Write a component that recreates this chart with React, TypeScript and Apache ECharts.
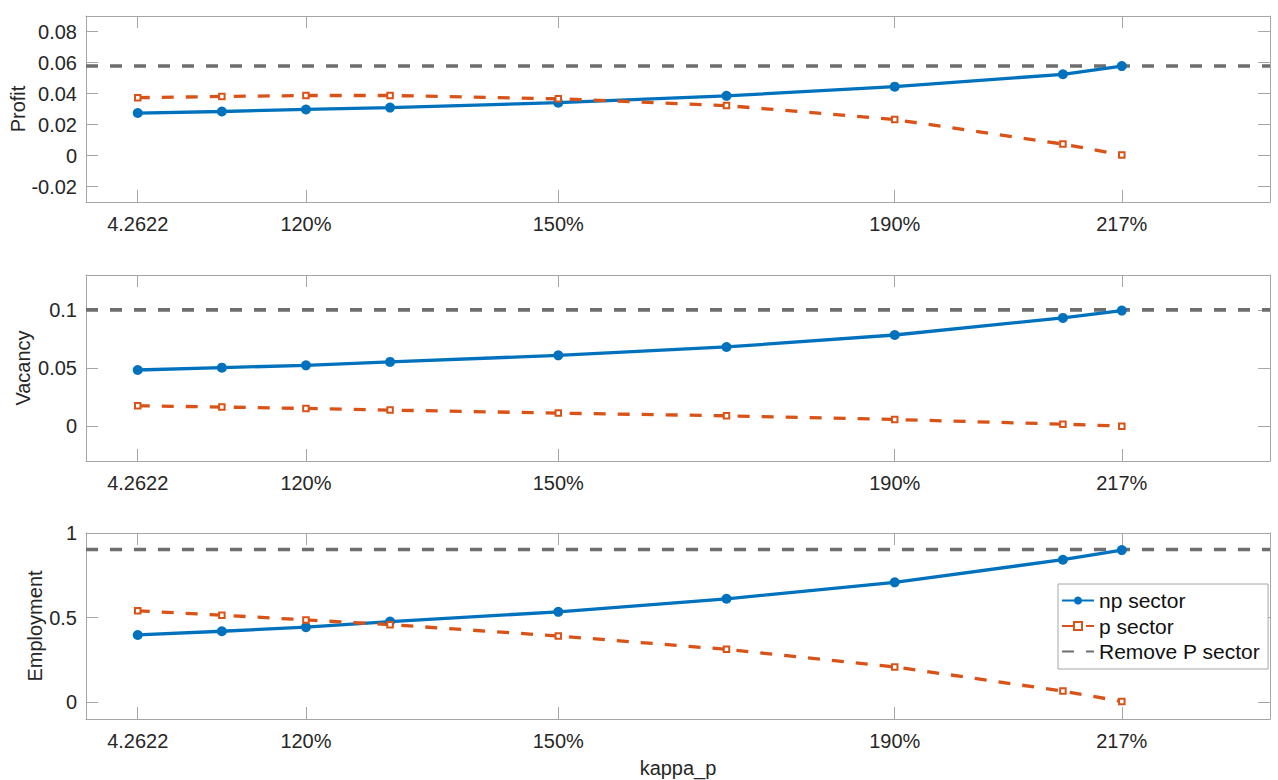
import React, { useEffect, useRef } from "react";
import * as echarts from "echarts";

// ---------- data ----------
const KAPPA_BASE = 4.2622;
const X_MIN = 4;
const X_MAX = 10;
const X_MULT = [1, 1.1, 1.2, 1.3, 1.5, 1.7, 1.9, 2.1, 2.17];
const X_TICK_MULT = [1, 1.2, 1.5, 1.9, 2.17];
const X_TICK_LABELS = ["4.2622", "120%", "150%", "190%", "217%"];

const PROFIT_NP = [0.0274, 0.0284, 0.0297, 0.0309, 0.0341, 0.0385, 0.0444, 0.0524, 0.0577];
const PROFIT_P = [0.0373, 0.0381, 0.0387, 0.0387, 0.0366, 0.0322, 0.0232, 0.0074, 0.0004];
const PROFIT_REMOVE = 0.0577;
const PROFIT_TICKS = [-0.02, 0, 0.02, 0.04, 0.06, 0.08];
const PROFIT_RANGE = [-0.03, 0.09];

const VACANCY_NP = [0.0483, 0.0503, 0.0523, 0.0552, 0.0609, 0.0681, 0.0784, 0.0931, 0.0994];
const VACANCY_P = [0.0175, 0.0164, 0.0152, 0.0138, 0.0112, 0.0089, 0.0057, 0.0017, 0.0];
const VACANCY_REMOVE = 0.1;
const VACANCY_TICKS = [0, 0.05, 0.1];
const VACANCY_RANGE = [-0.03, 0.13];

const EMPLOY_NP = [0.397, 0.419, 0.443, 0.476, 0.534, 0.611, 0.708, 0.842, 0.899];
const EMPLOY_P = [0.54, 0.514, 0.486, 0.458, 0.391, 0.312, 0.208, 0.065, 0.004];
const EMPLOY_REMOVE = 0.902;
const EMPLOY_TICKS = [0, 0.5, 1];
const EMPLOY_RANGE = [-0.1, 1];

const SERIES_NAMES = ["np sector", "p sector", "Remove P sector"];
const PANEL_NAMES = ["Profit", "Vacancy", "Employment"];
const X_NAME = "kappa_p";

// ---------- styles ----------
const FONT = "'Liberation Sans', Arial, Helvetica, sans-serif";
const TEXT = "#262626";
const AXIS = "#a6a6a6";
const BLUE = "#0072BD";
const ORANGE = "#D95319";
const GRAY = "#6e6e6e";

const X_VALUES = X_MULT.map((m) => KAPPA_BASE * m);
const X_TICKS = X_TICK_MULT.map((m) => KAPPA_BASE * m);

const PANELS = [
  { name: PANEL_NAMES[0], np: PROFIT_NP, p: PROFIT_P, rem: PROFIT_REMOVE, ticks: PROFIT_TICKS, range: PROFIT_RANGE, top: 16, gap: 58 },
  { name: PANEL_NAMES[1], np: VACANCY_NP, p: VACANCY_P, rem: VACANCY_REMOVE, ticks: VACANCY_TICKS, range: VACANCY_RANGE, top: 275, gap: 53 },
  { name: PANEL_NAMES[2], np: EMPLOY_NP, p: EMPLOY_P, rem: EMPLOY_REMOVE, ticks: EMPLOY_TICKS, range: EMPLOY_RANGE, top: 533, gap: 41 },
];

function xLabel(v: number): string {
  let best = 0;
  let bd = Infinity;
  X_TICKS.forEach((t, i) => {
    const d = Math.abs(t - v);
    if (d < bd) {
      bd = d;
      best = i;
    }
  });
  return X_TICK_LABELS[best];
}

function buildOption() {
  const grid: any[] = [];
  const xAxis: any[] = [];
  const yAxis: any[] = [];
  const series: any[] = [];

  PANELS.forEach((pn, i) => {
    grid.push({ left: 86, top: pn.top, width: 1184, height: 186, containLabel: false, outerBoundsMode: "none" });
    const isLast = i === PANELS.length - 1;
    xAxis.push({
      type: "value",
      gridIndex: i,
      position: "bottom",
      min: X_MIN,
      max: X_MAX,
      name: isLast ? X_NAME : "",
      nameLocation: "middle",
      nameGap: 39,
      nameMoveOverlap: false,
      nameTextStyle: { fontSize: 20, color: TEXT, fontFamily: FONT },
      axisLine: { show: true, onZero: false, lineStyle: { color: AXIS, width: 1 } },
      axisTick: { show: true, inside: true, length: 12, customValues: X_TICKS, lineStyle: { color: AXIS } },
      axisLabel: {
        show: true,
        customValues: X_TICKS,
        margin: 12,
        fontSize: 20,
        color: TEXT,
        fontFamily: FONT,
        formatter: (v: number) => xLabel(v),
      },
      splitLine: { show: false },
    });
    xAxis.push({
      type: "value",
      gridIndex: i,
      position: "top",
      min: X_MIN,
      max: X_MAX,
      axisLine: { show: true, onZero: false, lineStyle: { color: AXIS, width: 1 } },
      axisTick: { show: true, inside: true, length: 12, customValues: X_TICKS, lineStyle: { color: AXIS } },
      axisLabel: { show: false },
      splitLine: { show: false },
    });
    yAxis.push({
      type: "value",
      gridIndex: i,
      position: "left",
      min: pn.range[0],
      max: pn.range[1],
      name: pn.name,
      nameLocation: "middle",
      nameGap: pn.gap,
      nameMoveOverlap: false,
      nameTextStyle: { fontSize: 20, color: TEXT, fontFamily: FONT },
      axisLine: { show: true, onZero: false, lineStyle: { color: AXIS, width: 1 } },
      axisTick: { show: true, inside: true, length: 12, customValues: pn.ticks, lineStyle: { color: AXIS } },
      axisLabel: {
        show: true,
        customValues: pn.ticks,
        margin: 9,
        fontSize: 20,
        color: TEXT,
        fontFamily: FONT,
        formatter: (v: number) => String(+Number(v).toFixed(4)),
      },
      splitLine: { show: false },
    });
    yAxis.push({
      type: "value",
      gridIndex: i,
      position: "right",
      min: pn.range[0],
      max: pn.range[1],
      axisLine: { show: true, onZero: false, lineStyle: { color: AXIS, width: 1 } },
      axisTick: { show: true, inside: true, length: 12, customValues: pn.ticks, lineStyle: { color: AXIS } },
      axisLabel: { show: false },
      splitLine: { show: false },
    });

    series.push({
      name: SERIES_NAMES[2],
      type: "line",
      xAxisIndex: 2 * i,
      yAxisIndex: 2 * i,
      data: [
        [X_MIN, pn.rem],
        [X_MAX, pn.rem],
      ],
      symbol: "none",
      lineStyle: { color: GRAY, width: 3.6, type: [12, 12] },
      itemStyle: { color: GRAY },
      z: 2,
    });
    series.push({
      name: SERIES_NAMES[0],
      type: "line",
      xAxisIndex: 2 * i,
      yAxisIndex: 2 * i,
      data: X_VALUES.map((x, j) => [x, pn.np[j]]),
      symbol: "circle",
      symbolSize: 10,
      lineStyle: { color: BLUE, width: 3.3 },
      itemStyle: { color: BLUE },
      z: 3,
    });
    series.push({
      name: SERIES_NAMES[1],
      type: "line",
      xAxisIndex: 2 * i,
      yAxisIndex: 2 * i,
      data: X_VALUES.map((x, j) => [x, pn.p[j]]),
      symbol: "emptyRect",
      symbolSize: 5.5,
      lineStyle: { color: ORANGE, width: 3.3, type: [12, 12] },
      itemStyle: { color: ORANGE, borderColor: ORANGE, borderWidth: 3.5 },
      z: 3,
    });
  });

  return {
    animation: false,
    backgroundColor: "#ffffff",
    textStyle: { fontFamily: FONT },
    grid,
    xAxis,
    yAxis,
    series,
    legend: {
      data: [
        { name: SERIES_NAMES[0] },
        { name: SERIES_NAMES[1] },
        { name: SERIES_NAMES[2], itemStyle: { opacity: 0, color: "transparent", borderColor: "transparent" } },
      ],
      orient: "vertical",
      left: 1058,
      top: 584,
      padding: [6, 8, 7, 3],
      itemGap: 4.5,
      itemWidth: 32,
      itemHeight: 10,
      backgroundColor: "#ffffff",
      borderColor: AXIS,
      borderWidth: 1,
      borderRadius: 0,
      selectedMode: false,
      textStyle: { fontSize: 21, color: "#111111", fontFamily: FONT, lineHeight: 21 },
      z: 10,
    },
  };
}

export default function App() {
  const ref = useRef<HTMLDivElement | null>(null);
  useEffect(() => {
    if (!ref.current) return;
    const chart = echarts.init(ref.current, undefined, { renderer: "svg" });
    chart.setOption(buildOption() as any);
    return () => chart.dispose();
  }, []);
  return (
    <div
      ref={ref}
      style={{ position: "fixed", left: 0, top: 0, width: 1278, height: 780, background: "#fff" }}
    />
  );
}
